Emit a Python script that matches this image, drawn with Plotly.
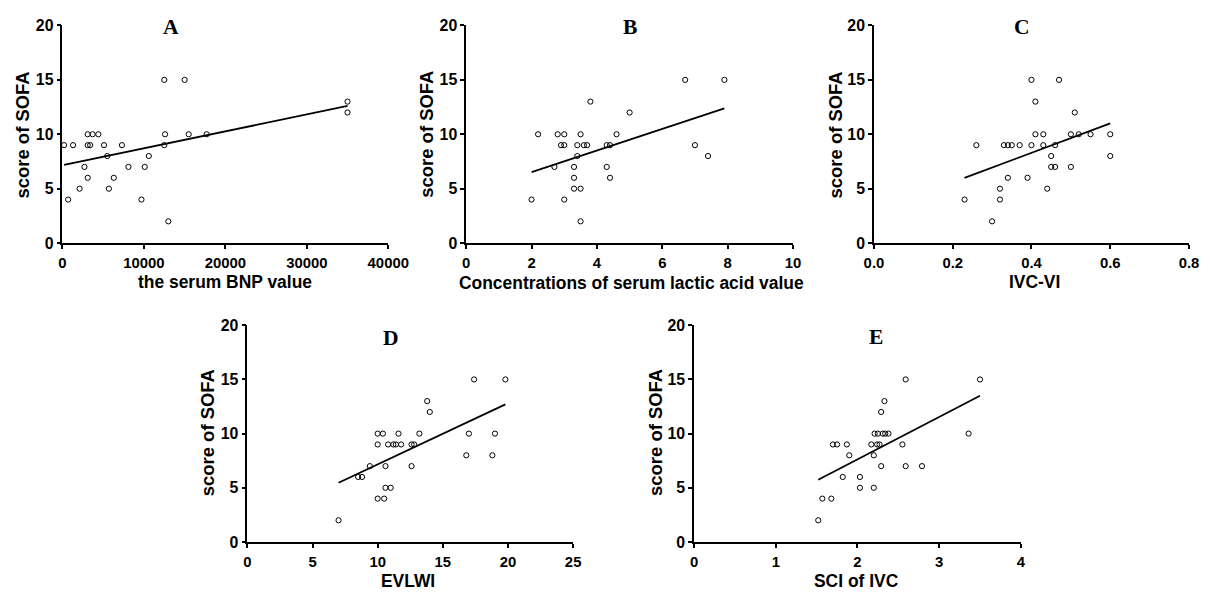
import numpy as np
import plotly.graph_objects as go

# ---------------- data ----------------
bnp_x = [200, 700, 1300, 2100, 2700, 3100, 3100, 3400, 3100, 3700, 4400, 5100, 5500, 5700,
         6300, 7300, 8100, 9700, 10100, 10600, 12500, 12600, 12500, 13000, 15000, 15500,
         17700, 35000, 35000]
bnp_y = [9, 4, 9, 5, 7, 10, 9, 9, 6, 10, 10, 9, 8, 5,
         6, 9, 7, 4, 7, 8, 15, 10, 9, 2, 15, 10,
         10, 13, 12]

lac_x = [2.0, 2.2, 2.7, 2.8, 2.9, 3.0, 3.0, 3.0, 3.3, 3.3, 3.3, 3.4, 3.4, 3.5, 3.5, 3.5,
         3.6, 3.7, 3.8, 4.3, 4.3, 4.4, 4.4, 4.6, 5.0, 6.7, 7.0, 7.4, 7.9]
lac_y = [4, 10, 7, 10, 9, 9, 10, 4, 7, 6, 5, 8, 9, 10, 5, 2,
         9, 9, 13, 7, 9, 9, 6, 10, 12, 15, 9, 8, 15]

ivc_vi_x = [0.23, 0.26, 0.30, 0.32, 0.32, 0.33, 0.34, 0.35, 0.34, 0.37, 0.39, 0.40, 0.40,
            0.41, 0.41, 0.43, 0.43, 0.44, 0.45, 0.45, 0.46, 0.46, 0.47, 0.50, 0.50, 0.51,
            0.52, 0.55, 0.60, 0.60]
ivc_vi_y = [4, 9, 2, 5, 4, 9, 9, 9, 6, 9, 6, 15, 9,
            13, 10, 10, 9, 5, 8, 7, 7, 9, 15, 10, 7, 12,
            10, 10, 10, 8]

evlwi_x = [7.0, 8.5, 8.8, 9.4, 10.0, 10.0, 10.0, 10.4, 10.5, 10.6, 10.6, 11.0, 10.8, 11.2,
           11.4, 11.6, 11.8, 12.6, 12.6, 12.8, 13.2, 13.8, 14.0, 16.8, 17.0, 17.4, 18.8,
           19.0, 19.8]
evlwi_y = [2, 6, 6, 7, 4, 9, 10, 10, 4, 7, 5, 5, 9, 9,
           9, 10, 9, 7, 9, 9, 10, 13, 12, 8, 10, 15, 8,
           10, 15]

sci_x = [1.52, 1.57, 1.68, 1.70, 1.75, 1.82, 1.87, 1.90, 2.03, 2.03, 2.17, 2.20, 2.20, 2.21,
         2.25, 2.24, 2.27, 2.29, 2.29, 2.31, 2.34, 2.38, 2.33, 2.55, 2.59, 2.59, 2.79,
         3.36, 3.50]
sci_y = [2, 4, 4, 9, 9, 6, 9, 8, 6, 5, 9, 8, 5, 10,
         10, 9, 9, 12, 7, 10, 10, 10, 13, 9, 15, 7, 7,
         10, 15]

# regression lines (intercept, slope)
fit_intercept = [7.15, 4.54, 2.89, 1.515, -0.20]
fit_slope = [1.557e-4, 0.9915, 13.51, 0.565, 3.914]

panel_letters = ["A", "B", "C", "D", "E"]
x_titles = ["the serum BNP value", "Concentrations of serum lactic acid value",
            "IVC-VI", "EVLWI", "SCI of IVC"]
y_title = "score of SOFA"
x_ranges = [[0, 40000], [0, 10], [0, 0.8], [0, 25], [0, 4]]
x_ticks = [[0, 10000, 20000, 30000, 40000], [0, 2, 4, 6, 8, 10],
           [0.0, 0.2, 0.4, 0.6, 0.8], [0, 5, 10, 15, 20, 25], [0, 1, 2, 3, 4]]
x_ticktext = [["0", "10000", "20000", "30000", "40000"], ["0", "2", "4", "6", "8", "10"],
              ["0.0", "0.2", "0.4", "0.6", "0.8"], ["0", "5", "10", "15", "20", "25"],
              ["0", "1", "2", "3", "4"]]
y_ticks = [0, 5, 10, 15, 20]
y_ticktext = ["0", "5", "10", "15", "20"]

xs = [bnp_x, lac_x, ivc_vi_x, evlwi_x, sci_x]
ys = [bnp_y, lac_y, ivc_vi_y, evlwi_y, sci_y]

# ---------------- layout geometry (target picture pixels) ----------------
W, H = 1210, 592
S, OX, OY = 0.975, 8.5, 7.5      # observed picture = S * page + offset
# (left, right, top, bottom) of each plot area
boxes = [(61, 387, 25, 243.5), (465, 792, 25, 243.5), (873, 1200, 25, 243.5),
         (246, 572, 326, 543.5), (693, 1020, 326, 543.5)]
letter_pos = [(169.5, 26.5), (628.5, 26.5), (1021, 26.5), (389.5, 338.5), (875, 338)]
xtitle_pos = [(224, 283), (630, 284), (1034, 283), (407, 583), (856, 583)]
ytitle_pos = [(21.5, 134.5), (425, 134.5), (835, 134.5), (206, 434), (655, 434)]


def px(xp):
    return min(1.0, max(0.0, (xp - OX) / S / W))


def py(yp):
    return min(1.0, max(0.0, 1 - (yp - OY) / S / H))


def fs(size):
    return size / S


FAM = "Arial, Liberation Sans, sans-serif"

fig = go.Figure()
annotations = []
layout = dict(width=W, height=H, margin=dict(l=0, r=0, t=0, b=0), autosize=False,
              paper_bgcolor="white", plot_bgcolor="white", showlegend=False)

for i in range(5):
    n = "" if i == 0 else str(i + 1)
    l, r, t, b = boxes[i]
    common = dict(showgrid=False, zeroline=False, showline=True, linecolor="black",
                  linewidth=1.6, ticks="outside", ticklen=4, tickwidth=1.5, tickcolor="black",
                  tickmode="array")
    xa = dict(domain=[px(l), px(r)], range=x_ranges[i], anchor="y" + n,
              tickvals=x_ticks[i], ticktext=["<b>" + s + "</b>" for s in x_ticktext[i]],
              tickfont=dict(family=FAM, size=fs(14.5), color="black"),
              ticklabelstandoff=1, **common)
    ya = dict(domain=[py(b), py(t)], range=[0, 20], anchor="x" + n,
              tickvals=y_ticks, ticktext=["<b>" + s + "</b>" for s in y_ticktext],
              tickfont=dict(family=FAM, size=fs(15.5), color="black"), **common)
    layout["xaxis" + n] = xa
    layout["yaxis" + n] = ya

    fig.add_trace(go.Scatter(x=xs[i], y=ys[i], mode="markers", xaxis="x" + n, yaxis="y" + n,
                             cliponaxis=False,
                             marker=dict(symbol="circle-open", size=5.2, color="black",
                                         line=dict(width=1, color="black"))))
    lx = np.array([min(xs[i]), max(xs[i])], dtype=float)
    ly = fit_intercept[i] + fit_slope[i] * lx
    fig.add_trace(go.Scatter(x=lx, y=ly, mode="lines", xaxis="x" + n, yaxis="y" + n,
                             cliponaxis=False, line=dict(color="black", width=1.8)))

    annotations.append(dict(text="<b>" + panel_letters[i] + "</b>", xref="paper", yref="paper",
                            x=px(letter_pos[i][0]), y=py(letter_pos[i][1]),
                            xanchor="center", yanchor="middle", showarrow=False,
                            font=dict(family="Times New Roman, Liberation Serif, serif",
                                      size=fs(21), color="black")))
    annotations.append(dict(text="<b>" + x_titles[i] + "</b>", xref="paper", yref="paper",
                            x=px(xtitle_pos[i][0]), y=py(xtitle_pos[i][1]),
                            xanchor="center", yanchor="middle", showarrow=False,
                            font=dict(family=FAM, size=fs(17), color="black")))
    annotations.append(dict(text="<b>" + y_title + "</b>", xref="paper", yref="paper",
                            x=px(ytitle_pos[i][0]), y=py(ytitle_pos[i][1]),
                            xanchor="center", yanchor="middle", showarrow=False, textangle=-90,
                            font=dict(family=FAM, size=fs(18), color="black")))

layout["annotations"] = annotations
fig.update_layout(**layout)
fig.write_html("out.html", config={"displayModeBar": False},
               post_script="document.body.style.margin='0';document.body.style.overflow='hidden';")
